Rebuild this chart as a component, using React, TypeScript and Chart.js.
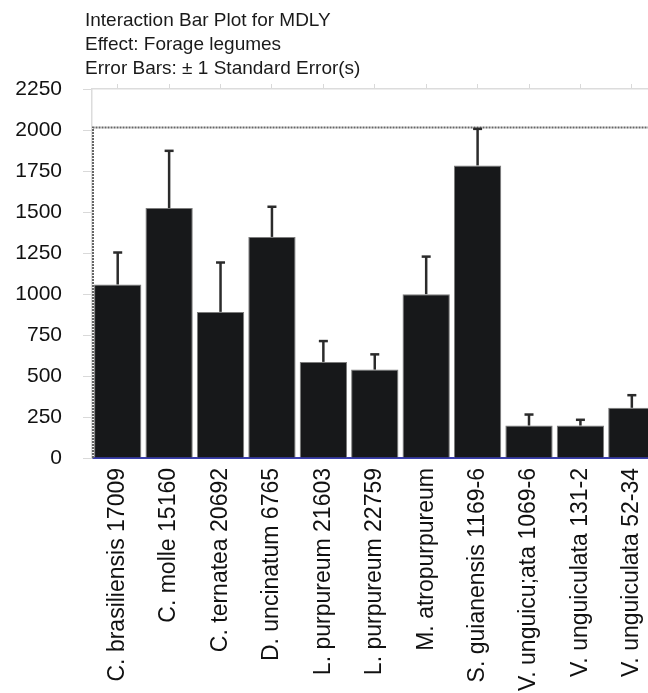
import React, { useEffect, useRef } from "react";
import { Chart, registerables } from "chart.js";

Chart.register(...registerables);

// ---- data ----
const titleLines = [
  "Interaction Bar Plot for MDLY",
  "Effect: Forage legumes",
  "Error Bars: \u00b1 1 Standard Error(s)",
];

const categories = [
  "C. brasiliensis 17009",
  "C. molle 15160",
  "C. ternatea 20692",
  "D. uncinatum 6765",
  "L. purpureum 21603",
  "L. purpureum 22759",
  "M. atropurpureum",
  "S. guianensis 1169-6",
  "V. unguicu;ata 1069-6",
  "V. unguiculata 131-2",
  "V. unguiculata 52-34",
];

const means = [1058, 1524, 891, 1348, 586, 539, 999, 1784, 198, 198, 306];
const standardErrors = [195, 349, 301, 184, 127, 93, 229, 223, 67, 35, 77];

const yMin = 0;
const yMax = 2250;
const yStep = 250;
const frameLevel = 2015; // dotted frame drawn around the data region

const FONT = "'Liberation Sans', Arial, sans-serif";

const errorBarPlugin = {
  id: "errorBars",
  afterDatasetsDraw(chart: any) {
    const { ctx } = chart;
    const yScale = chart.scales.y;
    const meta = chart.getDatasetMeta(0);
    ctx.save();
    ctx.strokeStyle = "#2b2b2b";
    ctx.lineWidth = 2.5;
    meta.data.forEach((bar: any, i: number) => {
      const top = yScale.getPixelForValue(means[i] + standardErrors[i]);
      const base = bar.y;
      ctx.beginPath();
      ctx.moveTo(bar.x, base);
      ctx.lineTo(bar.x, top);
      ctx.stroke();
      ctx.beginPath();
      ctx.moveTo(bar.x - 4.5, top);
      ctx.lineTo(bar.x + 4.5, top);
      ctx.stroke();
    });
    ctx.restore();
  },
};

const framePlugin = {
  id: "dottedFrame",
  beforeDatasetsDraw(chart: any) {
    const { ctx, chartArea } = chart;
    const yScale = chart.scales.y;
    const yf = yScale.getPixelForValue(frameLevel);
    const y0 = yScale.getPixelForValue(0);
    ctx.save();
    ctx.strokeStyle = "#666";
    ctx.lineWidth = 2;
    ctx.setLineDash([2, 1]);
    ctx.beginPath();
    ctx.moveTo(chartArea.left + 1, y0);
    ctx.lineTo(chartArea.left + 1, yf);
    ctx.lineTo(chartArea.right, yf);
    ctx.stroke();
    ctx.restore();
  },
};

export default function App() {
  const canvasRef = useRef<HTMLCanvasElement | null>(null);

  useEffect(() => {
    const canvas = canvasRef.current;
    if (!canvas) return;
    const chart = new Chart(canvas, {
      type: "bar",
      data: {
        labels: categories,
        datasets: [
          {
            data: means,
            backgroundColor: "#17181a",
            borderColor: "rgba(110,110,110,0.9)",
            borderWidth: 1,
            barPercentage: 0.92,
            categoryPercentage: 1.0,
          },
        ],
      },
      options: {
        responsive: false,
        animation: false,
        devicePixelRatio: 1,
        layout: { padding: { top: 89, right: 0, bottom: 0, left: 0 } },
        plugins: {
          legend: { display: false },
          title: { display: false },
          tooltip: { enabled: false },
        },
        scales: {
          x: {
            type: "category",
            position: "bottom",
            z: 1,
            grid: { drawOnChartArea: false, drawTicks: false, color: "transparent" },
            border: { color: "#3b3fae", width: 2, dash: [2, 1] },
            ticks: {
              autoSkip: false,
              maxRotation: 90,
              minRotation: 90,
              padding: 10,
              color: "#111",
              font: { family: FONT, size: 23 },
            },
            afterFit(scale: any) {
              scale.height = 235;
            },
          },
          xTop: {
            type: "category",
            position: "top",
            labels: categories,
            grid: { drawOnChartArea: false, tickLength: 5, color: "#d9d9d9", offset: false },
            border: { color: "#dcdcdc", width: 1.5 },
            ticks: { display: false },
            afterFit(scale: any) {
              scale.height = 0;
            },
          },
          y: {
            min: yMin,
            max: yMax,
            grid: { drawOnChartArea: false, tickLength: 9, color: "#d9d9d9" },
            border: { color: "#dcdcdc", width: 1.5 },
            ticks: {
              stepSize: yStep,
              padding: 21,
              color: "#111",
              font: { family: FONT, size: 21 },
              callback: (v: any) => String(v),
            },
            afterFit(scale: any) {
              scale.width = 92;
            },
          },
        },
      },
      plugins: [framePlugin, errorBarPlugin],
    });
    return () => chart.destroy();
  }, []);

  return (
    <div
      style={{
        position: "fixed",
        left: 0,
        top: 0,
        width: 648,
        height: 693,
        overflow: "hidden",
        background: "#fff",
      }}
    >
      <canvas
        ref={canvasRef}
        width={670}
        height={693}
        style={{ position: "absolute", left: 0, top: 0, width: 670, height: 693 }}
      />
      <div
        style={{
          position: "absolute",
          left: 85,
          top: 8,
          fontFamily: FONT,
          fontSize: 19,
          lineHeight: "24px",
          color: "#1a1a1a",
          whiteSpace: "nowrap",
        }}
      >
        {titleLines.map((t) => (
          <div key={t}>{t}</div>
        ))}
      </div>
    </div>
  );
}
